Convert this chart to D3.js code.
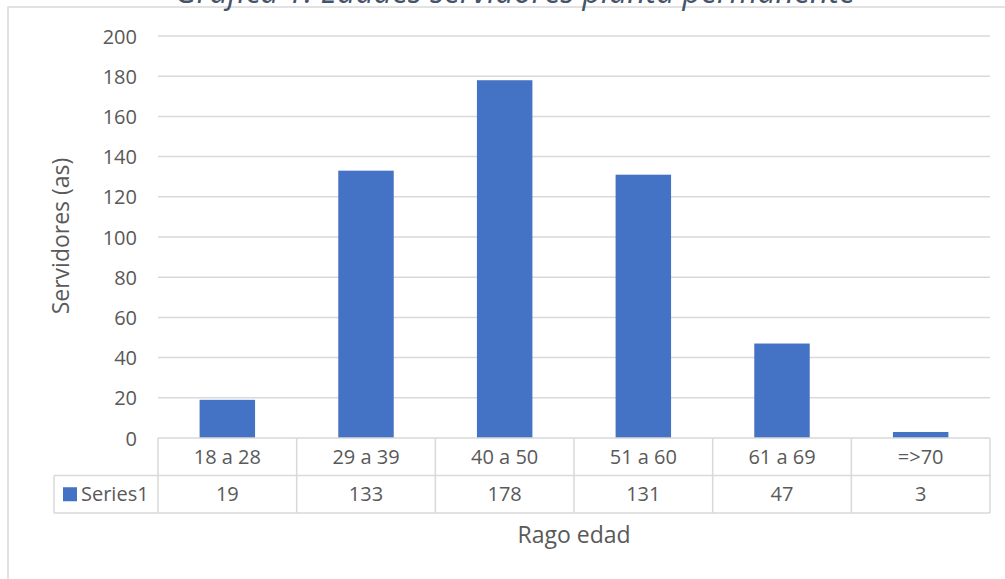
<!DOCTYPE html>
<html>
<head>
<meta charset="utf-8">
<script src="https://cdn.jsdelivr.net/npm/d3@7"></script>
<style>
  body { margin: 0; background: #fff; }
  text { font-family: "Open Sans", sans-serif; fill: #595959; }
</style>
</head>
<body>
<svg class="viz" width="1005" height="579"></svg>
<script>
// data
var categories = ["18 a 28", "29 a 39", "40 a 50", "51 a 60", "61 a 69", "=>70"];
var values = [19, 133, 178, 131, 47, 3];
var yTicks = [0, 20, 40, 60, 80, 100, 120, 140, 160, 180, 200];
var seriesName = "Series1";

var svg = d3.select(".viz"),
    plot = {left: 158, right: 990, top: 36, bottom: 438},
    rowH = 37.5,
    grid = "#d9d9d9";

// chart border (cut off on right/bottom)
svg.append("rect")
  .attr("x", 8).attr("y", 7)
  .attr("width", 1020).attr("height", 600)
  .attr("fill", "none").attr("stroke", grid).attr("stroke-width", 1.5);

// title, mostly cut off above the border
svg.append("text")
  .attr("x", 515).attr("y", 3)
  .attr("text-anchor", "middle")
  .style("font-size", "32px").style("font-style", "italic")
  .style("fill", "#44546A")
  .text("Gráfica 1. Edades servidores planta permanente");

var x = d3.scaleBand()
  .domain(categories)
  .range([plot.left, plot.right])
  .paddingInner(0.6)
  .paddingOuter(0.3);

var y = d3.scaleLinear()
  .domain([0, 200])
  .range([plot.bottom, plot.top]);

// gridlines
svg.append("g").selectAll("line")
  .data(yTicks.filter(function (d) { return d > 0; }))
  .enter().append("line")
  .attr("x1", plot.left).attr("x2", plot.right)
  .attr("y1", function (d) { return y(d); })
  .attr("y2", function (d) { return y(d); })
  .attr("stroke", grid).attr("stroke-width", 1.5);

// y tick labels
var yAxis = d3.axisLeft(y).tickValues(yTicks).tickSize(0).tickPadding(0);
var ya = svg.append("g")
  .attr("transform", "translate(137,0)")
  .call(yAxis);
ya.select(".domain").remove();
ya.selectAll("text")
  .style("font-size", "20px").style("font-family", "'Open Sans', sans-serif")
  .attr("fill", "#595959").attr("dy", "0.35em");

// bars
svg.append("g").selectAll("rect")
  .data(values)
  .enter().append("rect")
  .attr("x", function (d, i) { return x(categories[i]); })
  .attr("width", x.bandwidth())
  .attr("y", function (d) { return y(d); })
  .attr("height", function (d) { return y(0) - y(d); })
  .attr("fill", "#4472C4");

// data table
var step = x.step(),
    edges = categories.map(function (c) { return x(c) - x.paddingInner() * step / 2; });
edges.push(plot.right);
var t = svg.append("g").attr("stroke", grid).attr("stroke-width", 1.5);
t.append("line").attr("x1", plot.left).attr("x2", plot.right)
  .attr("y1", plot.bottom).attr("y2", plot.bottom);
[plot.bottom + rowH, plot.bottom + 2 * rowH].forEach(function (yy) {
  t.append("line").attr("x1", 54).attr("x2", plot.right).attr("y1", yy).attr("y2", yy);
});
edges.forEach(function (ex) {
  t.append("line").attr("x1", ex).attr("x2", ex)
    .attr("y1", plot.bottom).attr("y2", plot.bottom + 2 * rowH);
});
t.append("line").attr("x1", 54).attr("x2", 54)
  .attr("y1", plot.bottom + rowH).attr("y2", plot.bottom + 2 * rowH);

svg.append("g").selectAll("text")
  .data(categories)
  .enter().append("text")
  .attr("x", function (d) { return x(d) + x.bandwidth() / 2; })
  .attr("y", plot.bottom + rowH / 2)
  .attr("dy", "0.35em")
  .attr("text-anchor", "middle")
  .style("font-size", "20px")
  .text(function (d) { return d; });

svg.append("g").selectAll("text")
  .data(values)
  .enter().append("text")
  .attr("x", function (d, i) { return x(categories[i]) + x.bandwidth() / 2; })
  .attr("y", plot.bottom + rowH * 1.5)
  .attr("dy", "0.35em")
  .attr("text-anchor", "middle")
  .style("font-size", "20px")
  .text(function (d) { return d; });

// legend key in table
svg.append("rect")
  .attr("x", 63).attr("y", plot.bottom + rowH * 1.5 - 7)
  .attr("width", 14).attr("height", 14)
  .attr("fill", "#4472C4");
svg.append("text")
  .attr("x", 81).attr("y", plot.bottom + rowH * 1.5)
  .attr("dy", "0.35em")
  .style("font-size", "20px")
  .text(seriesName);

// axis titles
svg.append("text")
  .attr("transform", "translate(61," + ((plot.top + plot.bottom) / 2 - 1) + ") rotate(-90)")
  .attr("text-anchor", "middle")
  .attr("dy", "0.35em")
  .style("font-size", "23px")
  .text("Servidores (as)");

svg.append("text")
  .attr("x", 574).attr("y", 535)
  .attr("text-anchor", "middle")
  .attr("dy", "0.35em")
  .style("font-size", "23px")
  .text("Rago edad");
</script>
</body>
</html>
